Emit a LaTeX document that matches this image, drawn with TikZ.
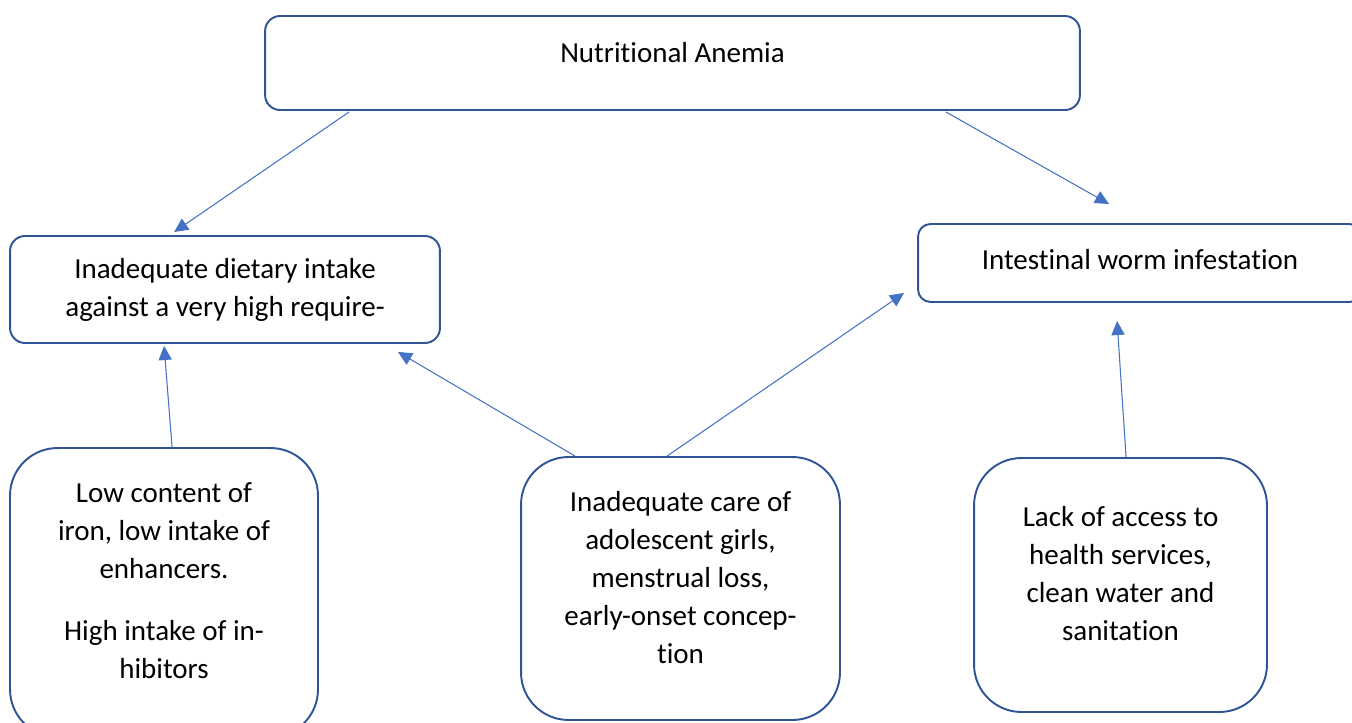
\documentclass[tikz,border=0pt]{standalone}
\usepackage{fontspec}
\setmainfont{Carlito}[Ligatures=NoCommon]
\usetikzlibrary{calc,arrows.meta}
\definecolor{boxline}{HTML}{2F5597}
\definecolor{arrowline}{HTML}{4472C4}
\tikzset{
  px/.style={x=0.02cm, y=-0.02cm},
  box/.style={draw=boxline, line width=1.1pt, rounded corners=0.3cm, align=center,
    font=\fontsize{16.5}{21.6}\selectfont, inner sep=0pt},
  bigbox/.style={box, rounded corners=0.95cm},
  arr/.style={draw=arrowline, line width=0.6pt, -{Triangle[length=8pt,width=7.5pt]}},
}
\begin{document}
\begin{tikzpicture}[px]
  \useasboundingbox (0,0) rectangle (1352,723);
  \clip (0,0) rectangle (1352,723);

  \node[box, minimum width=16.3cm, minimum height=1.88cm, text depth=0.44cm] (anemia) at (672.5,63) {Nutritional Anemia};
  \node[box, minimum width=8.6cm, minimum height=2.14cm] (diet) at (225,289.5)
    {Inadequate dietary intake\\against a very high require-};
  \node[box, rounded corners=0.25cm, minimum width=8.88cm, minimum height=1.56cm, text depth=0.16cm] (worm) at (1140,263)
    {Intestinal worm infestation};

  \node[bigbox, minimum width=6.16cm, minimum height=5.78cm, text depth=0.48cm] (iron) at (164,592.5)
    {Low content of\\iron, low intake of\\enhancers.\\[0.48cm]High intake of in-\\hibitors};
  \node[bigbox, minimum width=6.38cm, minimum height=5.26cm, text depth=0.44cm] (care) at (680.5,588.5)
    {Inadequate care of\\adolescent girls,\\menstrual loss,\\early-onset concep-\\tion};
  \node[bigbox, minimum width=5.86cm, minimum height=5.08cm, text depth=0.46cm] (access) at (1120.5,585)
    {Lack of access to\\health services,\\clean water and\\sanitation};

  % causes
  \draw[arr] ($(anemia.south west)+(85,1)$) -- ($(diet.north west)+(165,-3)$);
  \draw[arr] ($(anemia.south east)+(-135,1)$) -- ($(worm.north west)+(192,-19)$);
  \draw[arr] ($(iron.north west)+(163,0)$) -- ($(diet.south west)+(155,2)$);
  \draw[arr] ($(care.north west)+(55,0)$) -- ($(diet.south east)+(-43,8)$);
  \draw[arr] ($(care.north west)+(147,0)$) -- ($(worm.south west)+(-13,-10)$);
  \draw[arr] ($(access.north west)+(153,0)$) -- ($(worm.south west)+(200,18)$);
\end{tikzpicture}
\end{document}
